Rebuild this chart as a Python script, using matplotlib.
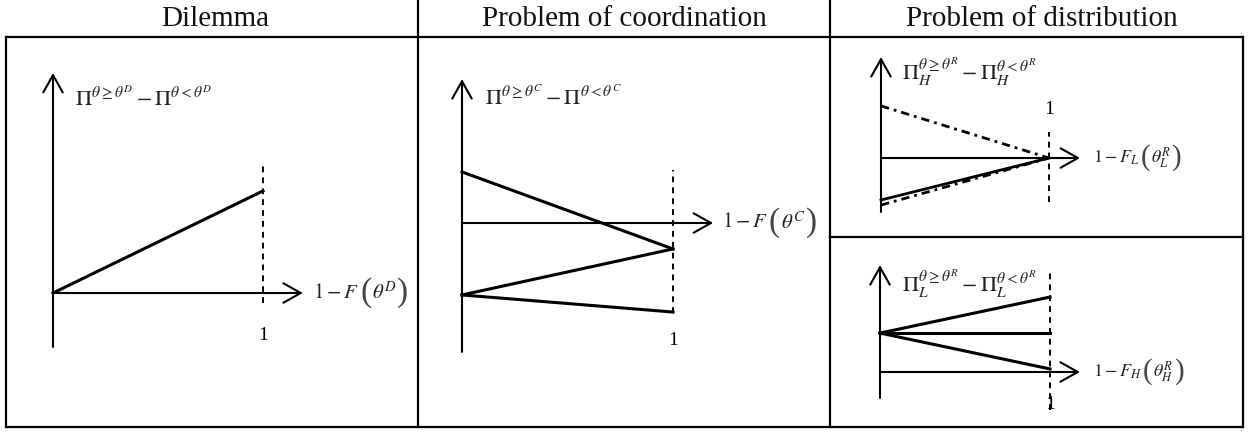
import matplotlib.pyplot as plt
from matplotlib.patches import FancyArrowPatch
from matplotlib.offsetbox import TextArea, HPacker, AnnotationBbox

plt.rcParams['mathtext.fontset'] = 'stix'
plt.rcParams['font.family'] = ['Liberation Serif', 'DejaVu Serif']

W, H = 1252, 432

headers = ["Dilemma", "Problem of coordination", "Problem of distribution"]

# panel 1: dilemma
dil_lines = [([0, 1], [0, 0.486])]
dil_xlabel = (r'$1-F$', r'$\theta^{D}$')
dil_ylabel = r'$\Pi^{\theta\geq\theta^{D}}-\Pi^{\theta<\theta^{D}}$'

# panel 2: coordination
coo_lines = [([0, 1], [0.242, -0.123]),
             ([0, 1], [-0.341, -0.123]),
             ([0, 1], [-0.341, -0.422])]
coo_xlabel = (r'$1-F$', r'$\theta^{C}$')
coo_ylabel = r'$\Pi^{\theta\geq\theta^{C}}-\Pi^{\theta<\theta^{C}}$'

# panel 3 top: distribution, H
dh_lines = [([0, 1], [0.31, 0.0], 'dashdot'),
            ([0, 1], [-0.25, 0.0], 'solid'),
            ([0, 1], [-0.28, 0.0], 'dashdot')]
dh_xlabel = (r'$1-F_{L}$', r'$\theta_{L}^{R}$')
dh_ylabel = r'$\Pi_{H}^{\theta\geq\theta^{R}}-\Pi_{H}^{\theta<\theta^{R}}$'

# panel 3 bottom: distribution, L
dl_lines = [([0, 1], [0.229, 0.441]),
            ([0, 1], [0.229, 0.229]),
            ([0, 1], [0.229, 0.018])]
dl_xlabel = (r'$1-F_{H}$', r'$\theta_{H}^{R}$')
dl_ylabel = r'$\Pi_{L}^{\theta\geq\theta^{R}}-\Pi_{L}^{\theta<\theta^{R}}$'

fig = plt.figure(figsize=(W / 100, H / 100), dpi=100)

# table frame in pixel coords
bg = fig.add_axes([0, 0, 1, 1])
bg.set_xlim(0, W)
bg.set_ylim(H, 0)
bg.axis('off')
lw_tab = 1.6
for (x0, x1, y0, y1) in [(6, 1243, 37, 37), (6, 1243, 427, 427),
                         (6, 6, 37, 427), (1243, 1243, 37, 427),
                         (418, 418, 0, 427), (830, 830, 0, 427),
                         (830, 1243, 237, 237)]:
    bg.plot([x0, x1], [y0, y1], color='black', lw=lw_tab, solid_capstyle='projecting')
for cx, txt in zip([215, 624, 1042], headers):
    bg.text(cx, 19, txt, ha='center', va='center', fontsize=21, color='#111111')


def panel(ox, oy, s):
    ax = fig.add_axes([0, 0, 1, 1])
    ax.set_xlim(-ox / s, (W - ox) / s)
    ax.set_ylim(-(H - oy) / s, oy / s)
    ax.axis('off')
    ax.patch.set_alpha(0)
    return ax


def arrow(ax, start, end):
    ax.add_patch(FancyArrowPatch(start, end, arrowstyle='->,head_length=12.5,head_width=7',
                                 mutation_scale=1, lw=1.5, color='black',
                                 shrinkA=0, shrinkB=0))


def xlabel_box(ax, x, parts, fs):
    head, inner = parts
    tp = dict(fontsize=fs, color='#222222')
    pp = dict(fontsize=fs * 1.6, color='#444444')
    boxes = [TextArea(head, textprops=tp),
             TextArea('(', textprops=pp),
             TextArea(inner, textprops=tp),
             TextArea(')', textprops=pp)]
    pack = HPacker(children=boxes, align='center', pad=0, sep=0.5)
    ab = AnnotationBbox(pack, (x, 0), box_alignment=(0, 0.5), frameon=False, pad=0)
    ax.add_artist(ab)


def draw(ax, ylo, yhi, xhi, dlo, dhi, one_y, xl_x, xlabel, xl_fs, yl_x, yl_y, ylabel):
    arrow(ax, (0, ylo), (0, yhi))
    arrow(ax, (0, 0), (xhi, 0))
    ax.plot([1, 1], [dlo, dhi], color='black', lw=1.4, linestyle=(0, (3, 2.6)))
    ax.text(1, one_y, '1', ha='center', va='center', fontsize=14)
    xlabel_box(ax, xl_x, xlabel, xl_fs)
    ax.text(yl_x, yl_y, ylabel, ha='left', va='center', fontsize=16, color='#222222')


a1 = panel(53, 293, 210)
draw(a1, -0.257, 1.048, 1.19, -0.048, 0.614, -0.2, 1.24, dil_xlabel, 15,
     0.105, 0.925, dil_ylabel)
for xs, ys in dil_lines:
    a1.plot(xs, ys, color='black', lw=2.2)

a2 = panel(462, 223, 211)
draw(a2, -0.611, 0.682, 1.19, -0.427, 0.251, -0.555, 1.232, coo_xlabel, 15,
     0.109, 0.595, coo_ylabel)
for xs, ys in coo_lines:
    a2.plot(xs, ys, color='black', lw=2.2)

a3 = panel(881, 158, 168)
draw(a3, -0.321, 0.601, 1.185, -0.262, 0.155, 0.286, 1.262, dh_xlabel, 13,
     0.125, 0.51, dh_ylabel)
for xs, ys, st in dh_lines:
    ls = (0, (3, 1.8, 1, 1.8)) if st == 'dashdot' else '-'
    a3.plot(xs, ys, color='black', lw=2.0, linestyle=ls)

a4 = panel(880, 372, 170)
draw(a4, -0.153, 0.629, 1.176, -0.224, 0.582, -0.19, 1.253, dl_xlabel, 13,
     0.129, 0.52, dl_ylabel)
for xs, ys in dl_lines:
    a4.plot(xs, ys, color='black', lw=2.2)

fig.savefig('out.png', dpi=100)
